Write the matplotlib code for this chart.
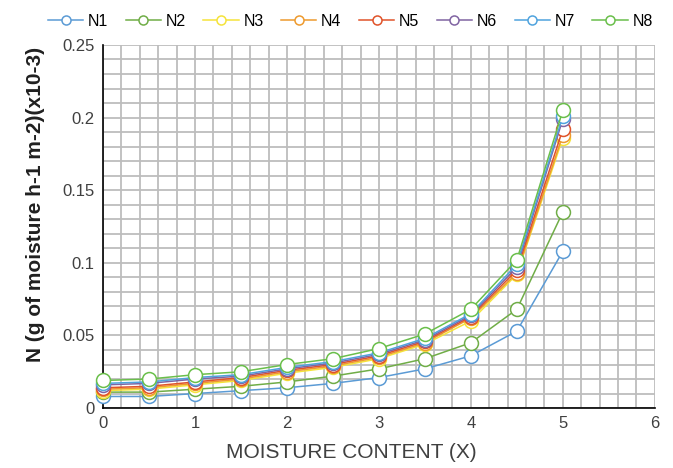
import numpy as np
from matplotlib import pyplot as plt
from matplotlib.ticker import MultipleLocator, FormatStrFormatter

plt.rcParams.update({"font.family": ["Liberation Sans", "DejaVu Sans"],
                     "font.size": 11})

# moisture content (X)
x = [0, 0.5, 1, 1.5, 2, 2.5, 3, 3.5, 4, 4.5, 5]

# drying rate N (g of moisture h-1 m-2)(x10-3)
n1 = [0.008, 0.008, 0.010, 0.012, 0.014, 0.017, 0.021, 0.027, 0.036, 0.053, 0.108]
n2 = [0.011, 0.011, 0.013, 0.015, 0.018, 0.022, 0.027, 0.034, 0.045, 0.068, 0.135]
n3 = [0.012, 0.013, 0.016, 0.019, 0.024, 0.028, 0.034, 0.044, 0.060, 0.092, 0.186]
n4 = [0.013, 0.014, 0.017, 0.020, 0.025, 0.029, 0.035, 0.045, 0.062, 0.093, 0.188]
n5 = [0.014, 0.015, 0.018, 0.021, 0.026, 0.030, 0.036, 0.046, 0.063, 0.095, 0.192]
n6 = [0.016, 0.017, 0.020, 0.022, 0.027, 0.031, 0.037, 0.047, 0.064, 0.097, 0.199]
n7 = [0.017, 0.018, 0.021, 0.023, 0.028, 0.032, 0.038, 0.048, 0.065, 0.099, 0.201]
n8 = [0.019, 0.020, 0.023, 0.025, 0.030, 0.034, 0.041, 0.051, 0.068, 0.102, 0.205]

labels = ["N1", "N2", "N3", "N4", "N5", "N6", "N7", "N8"]
series = [n1, n2, n3, n4, n5, n6, n7, n8]
colors = ["#5B9BD5", "#70AD47", "#F5E33A", "#EE9A2E",
          "#E0532A", "#8064A2", "#4FA3DE", "#6ABF4B"]

fig = plt.figure(figsize=(6.73, 4.68), dpi=100)
ax = fig.add_axes([0.153, 0.128, 0.82, 0.776])

for lab, ys, c in zip(labels, series, colors):
    ax.plot(x, ys, color=c, lw=1.1, marker="o", ms=10, mfc="white",
            mec=c, mew=1.1, label=lab, clip_on=False, zorder=3)

ax.set_xlim(0, 6)
ax.set_ylim(0, 0.25)
ax.xaxis.set_major_locator(MultipleLocator(1))
ax.xaxis.set_minor_locator(MultipleLocator(0.2))
ax.yaxis.set_major_locator(MultipleLocator(0.05))
ax.yaxis.set_minor_locator(MultipleLocator(0.01))
ax.yaxis.set_major_formatter(FormatStrFormatter("%g"))
ax.grid(which="both", color="#BDBDBD", lw=1.3)
ax.set_axisbelow(True)
ax.tick_params(which="both", length=0, colors="#404040", labelsize=12)
ax.tick_params(axis="x", pad=6)
ax.tick_params(axis="y", pad=6)

for s in ["top", "right"]:
    ax.spines[s].set_visible(False)
for s in ["left", "bottom"]:
    ax.spines[s].set_color("black")
    ax.spines[s].set_linewidth(1.2)

ax.set_xlabel("MOISTURE CONTENT (X)", fontsize=15, color="#404040")
ax.xaxis.set_label_coords(0.45, -0.095)
ax.set_ylabel("N (g of moisture h-1 m-2)(x10-3)", fontsize=15,
              fontweight="bold", color="#202020")
ax.yaxis.set_label_coords(-0.105, 0.56)

fig.legend(*ax.get_legend_handles_labels(), loc="center left",
           bbox_to_anchor=(0.062, 0.955), ncol=8, frameon=False,
           fontsize=11.5, handlelength=2.2, handletextpad=0.3,
           columnspacing=1.1, markerscale=0.65, borderaxespad=0)

fig.savefig("out.png", dpi=100)
